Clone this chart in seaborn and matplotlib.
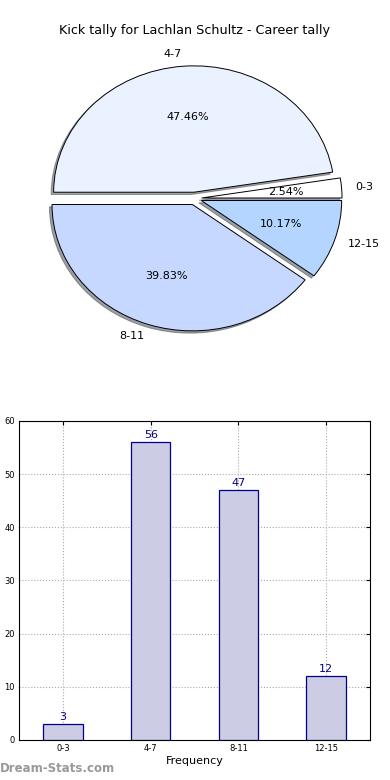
import matplotlib
matplotlib.use("Agg")
import matplotlib.pyplot as plt
import seaborn as sns
import pandas as pd

categories = ["0-3", "4-7", "8-11", "12-15"]
counts = [3, 56, 47, 12]
pie_colors = ["#FFFFFF", "#EAF1FF", "#C6D8FF", "#B3D5FF"]
explode = [0.05, 0.05, 0.05, 0.05]
title = "Kick tally for Lachlan Schultz - Career tally"

sns.set_style("white")
plt.rcParams['font.family'] = ['DejaVu Sans']
plt.rcParams['text.color'] = 'black'
plt.rcParams['axes.labelcolor'] = 'black'
plt.rcParams['xtick.color'] = 'black'
plt.rcParams['ytick.color'] = 'black'

fig = plt.figure(figsize=(3.9, 7.8), dpi=100)

# pie on top, not forced to equal aspect (stretched like the original)
ax_pie = fig.add_axes([0.049, 0.543, 0.9, 0.405])
wedges, texts, autotexts = ax_pie.pie(
    counts, labels=categories, colors=pie_colors, explode=explode,
    autopct="%.2f%%", shadow={'ox': -0.013, 'oy': -0.013}, startangle=0,
    wedgeprops=dict(edgecolor="black", linewidth=0.7),
    textprops=dict(fontsize=8))
ax_pie.set_aspect("auto")
ax_pie.set_xlim(-1.25, 1.25)
ax_pie.set_ylim(-1.25, 1.25)
ax_pie.set_title(title, fontsize=9.2, pad=4.5)

# bar chart below
ax = fig.add_axes([0.049, 0.0513, 0.9, 0.409])
df = pd.DataFrame({"range": categories, "count": counts})
sns.barplot(data=df, x="range", y="count", ax=ax, color="#CCCCE5",
            saturation=1, width=0.45, edgecolor="#00008B", linewidth=0.9,
            zorder=3)
for i, v in enumerate(counts):
    ax.text(i, v + 0.4, str(v), ha="center", va="bottom",
            color="#00008B", fontsize=8)

ax.set_xlim(-0.5, 3.5)
ax.set_ylim(0, 60)
ax.set_yticks(range(0, 61, 10))
ax.set_xlabel("Frequency", fontsize=8, labelpad=2)
ax.set_ylabel("")
ax.grid(True, linestyle=":", color="#AAAAAA", linewidth=0.8, zorder=0)
ax.set_axisbelow(True)
ax.tick_params(axis="both", labelsize=6, direction="in", length=3,
               top=True, right=True, pad=3)
for s in ax.spines.values():
    s.set_color("black")
    s.set_linewidth(0.8)

fig.text(0.0, 0.006, "Dream-Stats.com", color="#999999", fontsize=8.5,
         fontweight="bold", ha="left", va="bottom")

fig.savefig("out.png", dpi=100)
